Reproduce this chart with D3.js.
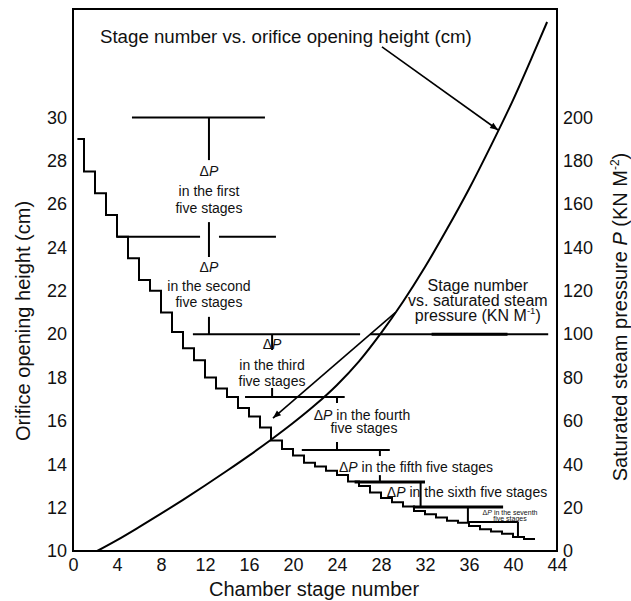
<!DOCTYPE html>
<html>
<head>
<meta charset="utf-8">
<script src="https://cdn.jsdelivr.net/npm/d3@7"></script>
<style>
  body { margin: 0; background: #fff; }
  svg { display: block; font-family: Arial, "Liberation Sans", Helvetica, sans-serif; }
</style>
</head>
<body>
<div id="chart"></div>
<script>
// chamber stage number and orifice opening height (cm) of each stage
const stageNumbers = [1, 2, 3, 4, 5, 6, 7, 8, 9, 10, 11, 12, 13, 14, 15, 16, 17, 18, 19, 20, 21,
  22, 23, 24, 25, 26, 27, 28, 29, 30, 31, 32, 33, 34, 35, 36, 37, 38, 39, 40, 41, 42];
const orificeHeights = [29, 27.5, 26.5, 25.5, 24.5, 23.5, 22.5, 22.0, 21.0, 20.1, 19.35, 18.8, 18.0,
  17.5, 17.1, 16.6, 16.2, 15.7, 15.1, 14.7, 14.4, 14.07, 13.9, 13.7, 13.5, 13.2, 13.0, 12.7, 12.45,
  12.25, 12.05, 11.85, 11.7, 11.55, 11.4, 11.3, 11.15, 11.0, 10.9, 10.8, 10.65, 10.55];
const firstStageStart = 0.4;

// saturated steam pressure (KN M-2) along the stage axis
const pressureStages = [2.2, 4, 6, 8, 10, 12, 14, 16, 18, 20, 22, 24, 26, 28, 30, 32, 34, 36, 38, 40, 42, 43.1];
const pressureValues = [0, 5, 11, 17.2, 23.6, 30.2, 37, 44, 51.3, 59, 67.3, 76.6, 87.5, 100.5, 115, 131,
  148.5, 167, 187, 208, 231, 244];

// tick labels
const stageTicks = [0, 4, 8, 12, 16, 20, 24, 28, 32, 36, 40, 44];
const heightTicks = [10, 12, 14, 16, 18, 20, 22, 24, 26, 28, 30];
const pressureTicks = [0, 20, 40, 60, 80, 100, 120, 140, 160, 180, 200];

const width = 631,
      height = 601;

const x = d3.scaleLinear().domain([0, 44]).range([73, 557]);
const yH = d3.scaleLinear().domain([10, 35]).range([551, 9]);
const yP = d3.scaleLinear().domain([0, 250]).range([551, 9]);

const $svg = d3.select('#chart').append('svg')
  .attr('width', width)
  .attr('height', height);

$svg.append('defs').append('marker')
  .attr('id', 'arrow')
  .attr('viewBox', '0 0 10 10')
  .attr('refX', 10)
  .attr('refY', 5)
  .attr('markerUnits', 'userSpaceOnUse')
  .attr('markerWidth', 10)
  .attr('markerHeight', 8)
  .attr('orient', 'auto')
  .append('path')
  .attr('d', 'M0,1 L10,5 L0,9 Z')
  .attr('fill', '#000');

// frame
$svg.append('rect')
  .attr('x', x(0))
  .attr('y', yH.range()[1])
  .attr('width', x(44) - x(0))
  .attr('height', yH.range()[0] - yH.range()[1])
  .attr('fill', 'none')
  .attr('stroke', '#000')
  .attr('stroke-width', 2);

function styleAxis(g) {
  g.select('.domain').remove();
  g.selectAll('text')
    .attr('font-size', 18)
    .attr('font-family', 'Arial, "Liberation Sans", sans-serif')
    .attr('fill', '#111');
}

$svg.append('g')
  .attr('transform', `translate(${x(0)},0)`)
  .call(d3.axisLeft(yH).tickValues(heightTicks).tickSize(0).tickPadding(6))
  .call(styleAxis);

$svg.append('g')
  .attr('transform', `translate(${x(44)},0)`)
  .call(d3.axisRight(yP).tickValues(pressureTicks).tickSize(0).tickPadding(6))
  .call(styleAxis);

$svg.append('g')
  .attr('transform', `translate(0,${yH(10)})`)
  .call(d3.axisBottom(x).tickValues(stageTicks).tickSize(0).tickPadding(7))
  .call(styleAxis);

// text helper: parts are [string, style] pairs
function addText(px, py, parts, size, anchor, rotate) {
  let t = $svg.append('text')
    .attr('font-size', size)
    .attr('text-anchor', anchor || 'middle')
    .attr('fill', '#111');
  if (rotate) {
    t.attr('transform', `translate(${px},${py}) rotate(${rotate})`);
  } else {
    t.attr('x', px).attr('y', py);
  }
  parts.forEach(p => {
    let s = t.append('tspan').text(p[0]);
    if (p[1] === 'i') s.attr('font-style', 'italic');
    if (p[1] === 'sup') s.attr('font-size', size * 0.6).attr('dy', -size * 0.4);
    if (p[1] === 'down') s.attr('dy', size * 0.4);
  });
  return t;
}

// axis titles
addText(x(22) - 1, 596, [['Chamber stage number']], 20);
addText(30, 321, [['Orifice opening height (cm)']], 20, 'middle', -90);
addText(627, 317, [['Saturated steam pressure '], ['P', 'i'], [' (KN M'], ['-2', 'sup'], [')', 'down']], 20, 'middle', -90);

// staircase of orifice heights
const stairPoints = stageNumbers.map((s, i) => [i === 0 ? firstStageStart : s - 1, orificeHeights[i]]);
stairPoints.push([stageNumbers[stageNumbers.length - 1], orificeHeights[orificeHeights.length - 1]]);

$svg.append('path')
  .datum(stairPoints)
  .attr('d', d3.line().x(d => x(d[0])).y(d => yH(d[1])).curve(d3.curveStepAfter))
  .attr('fill', 'none')
  .attr('stroke', '#000')
  .attr('stroke-width', 2);

// saturated steam pressure curve
$svg.append('path')
  .datum(pressureStages.map((s, i) => [s, pressureValues[i]]))
  .attr('d', d3.line().x(d => x(d[0])).y(d => yP(d[1])).curve(d3.curveCatmullRom))
  .attr('fill', 'none')
  .attr('stroke', '#000')
  .attr('stroke-width', 2);

// delta-P brackets, in stage / height units: [x1, h1, x2, h2, thick]
const bracketSegments = [
  [5.36, 30, 17.45, 30], [12.36, 30, 12.36, 28.03],
  [4.0, 24.5, 11.55, 24.5], [13.27, 24.5, 18.45, 24.5], [12.36, 25.17, 12.36, 23.56],
  [10.9, 20, 26.1, 20], [27.0, 20, 43.2, 20], [32.6, 20, 39.5, 20, 1],
  [12.36, 20, 12.36, 20.8], [18.1, 20, 18.1, 19.27],
  [15.64, 17.1, 24.7, 17.1], [18.1, 17.1, 18.1, 17.52], [24.0, 17.1, 24.0, 16.83],
  [20.8, 14.66, 28.8, 14.66], [24.0, 14.66, 24.0, 15.03], [27.9, 14.66, 27.9, 14.38],
  [25.6, 13.18, 32.0, 13.18, 1], [27.9, 13.18, 27.9, 13.5], [31.6, 13.18, 31.6, 12.03],
  [30.9, 12.03, 39.1, 12.03, 1], [35.9, 12.03, 35.9, 11.34],
  [35.9, 11.34, 40.45, 11.34], [40.45, 11.34, 40.45, 10.6]
];

$svg.append('g').selectAll('line')
  .data(bracketSegments)
  .enter()
  .append('line')
  .attr('x1', d => x(d[0]))
  .attr('y1', d => yH(d[1]))
  .attr('x2', d => x(d[2]))
  .attr('y2', d => yH(d[3]))
  .attr('stroke', '#000')
  .attr('stroke-width', d => d[4] ? 3 : 2);

// bracket labels
const dP = [['\u0394'], ['P', 'i']];
addText(x(12.36), yH(27.30), dP, 14);
addText(x(12.36), yH(26.37), [['in the first']], 14);
addText(x(12.36), yH(25.59), [['five stages']], 14);
addText(x(12.36), yH(22.88), dP, 14);
addText(x(12.36), yH(21.97), [['in the second']], 14);
addText(x(12.36), yH(21.25), [['five stages']], 14);
addText(x(18.09), yH(19.32), dP, 14);
addText(x(18.09), yH(18.33), [['in the third']], 14);
addText(x(18.09), yH(17.61), [['five stages']], 14);
addText(x(26.27), yH(16.04), dP.concat([[' in the fourth']]), 14);
addText(x(26.45), yH(15.42), [['five stages']], 14);
addText(x(31.18), yH(13.64), dP.concat([[' in the fifth five stages']]), 14);
addText(x(35.82), yH(12.49), dP.concat([[' in the sixth five stages']]), 14);
addText(x(39.73), yH(11.66), dP.concat([[' in the seventh']]), 7);
addText(x(39.73), yH(11.38), [['five stages']], 7);

// curve labels and arrows
addText(x(2.45), yH(33.41), [['Stage number vs. orifice opening height (cm)']], 18.7, 'start');
addText(x(36.8), yH(21.97), [['Stage number']], 16);
addText(x(36.8), yH(21.28), [['vs. saturated steam']], 16);
addText(x(36.8), yH(20.63), [['pressure (KN M'], ['-1', 'sup'], [')', 'down']], 16);

const arrows = [
  [28.09, 33.25, 38.64, 29.42],
  [29.3, 21.0, 18.18, 16.13]
];

$svg.append('g').selectAll('line')
  .data(arrows)
  .enter()
  .append('line')
  .attr('x1', d => x(d[0]))
  .attr('y1', d => yH(d[1]))
  .attr('x2', d => x(d[2]))
  .attr('y2', d => yH(d[3]))
  .attr('stroke', '#000')
  .attr('stroke-width', 1.6)
  .attr('marker-end', 'url(#arrow)');
</script>
</body>
</html>
